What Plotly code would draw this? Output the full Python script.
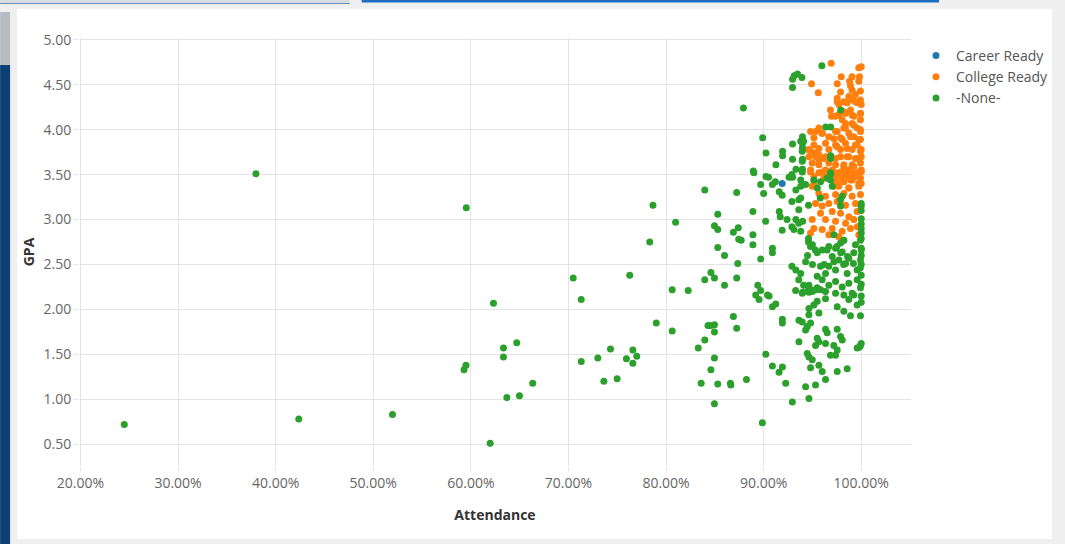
import plotly.graph_objects as go

# ---- data (Attendance in %, GPA) ----
career_att = [91.9]
career_gpa = [3.40]

college_att = [
    96.92, 94.91, 95.6, 99.75, 100.0, 99.82, 99.07, 97.95, 99.75, 98.8, 97.54, 98.9, 97.88, 99.07, 99.92,
    99.41, 98.73, 97.54, 98.22, 99.13, 99.92, 97.71, 99.58, 96.85, 98.9, 98.39, 99.92, 97.71, 96.95, 99.24,
    98.05, 99.92, 99.07, 98.39, 95.66, 98.22, 99.58, 94.81, 96.0, 97.37, 98.73, 99.92, 95.15, 96.68, 97.88,
    99.24, 99.92, 96.34, 97.37, 98.39, 99.58, 94.6, 94.81, 95.32, 96.68, 97.88, 99.07, 99.92, 96.34, 97.37,
    98.56, 99.41, 94.64, 95.32, 95.66, 96.68, 98.22, 99.07, 99.92, 94.81, 96.0, 97.03, 97.88, 98.73, 99.75,
    95.15, 96.34, 97.54, 98.39, 99.41,
    94.81, 95.66, 96.34, 97.37, 98.39, 99.24, 100.0,
    95.15, 96.17, 97.2, 98.05, 98.9, 99.92,
    94.98, 97.71, 98.73, 99.75,
    95.66, 96.34, 97.37, 98.22, 99.07, 99.92,
    95.32, 96.0, 96.68, 97.54, 98.39, 99.41,
    95.83, 97.03, 97.88, 98.73, 99.58,
    94.98, 96.34, 97.37, 98.39, 99.24,
    95.15, 96.0, 97.03, 98.05, 98.9, 99.6,
    94.81, 96.68, 97.71, 99.75,
    97.54, 98.56, 99.41, 100.0, 98.22, 99.07, 99.92, 97.37,
    95.32, 96.0, 97.54, 98.39, 99.24, 99.92,
    97.2, 98.05, 98.9, 99.75,
    95.15, 95.66, 97.54, 98.56, 99.41, 100.0,
    95.66, 96.17, 97.88, 98.73, 99.58, 100.0,
    94.98, 95.66, 97.37, 98.22, 99.24,
    97.37, 98.05, 98.73, 99.75, 100.0,
    97.54, 98.22, 99.07, 99.75, 100.0,
    95.15, 97.2, 98.73,
]
college_gpa = [
    4.74, 4.51, 4.41, 4.69, 4.70, 4.59, 4.59, 4.59, 4.54, 4.54, 4.51, 4.49, 4.42, 4.44, 4.43,
    4.39, 4.37, 4.35, 4.31, 4.33, 4.33, 4.28, 4.30, 4.22, 4.22, 4.18, 4.18, 4.17, 4.15, 4.15,
    4.11, 4.11, 4.07, 4.07, 4.02, 4.02, 4.02, 3.98, 3.96, 3.98, 3.96, 3.98, 3.91, 3.92, 3.91,
    3.92, 3.89, 3.85, 3.83, 3.85, 3.83, 3.78, 3.76, 3.74, 3.78, 3.78, 3.78, 3.76, 3.70, 3.68,
    3.70, 3.68, 3.70, 3.70, 3.66, 3.63, 3.61, 3.61, 3.63, 3.55, 3.53, 3.55, 3.53, 3.55, 3.53,
    3.48, 3.48, 3.48, 3.49, 3.48,
    3.53, 3.52, 3.55, 3.50, 3.53, 3.52, 3.55,
    3.44, 3.46, 3.42, 3.45, 3.44, 3.46,
    3.37, 3.37, 3.35, 3.37,
    3.29, 3.26, 3.28, 3.29, 3.26, 3.28,
    3.18, 3.15, 3.18, 3.20, 3.16, 3.18,
    3.07, 3.09, 3.07, 3.03, 3.09,
    3.00, 3.00, 2.98, 2.96, 3.00,
    2.90, 2.89, 2.90, 2.87, 2.90, 2.92,
    2.85, 2.83, 2.81, 2.83,
    4.31, 4.30, 4.31, 4.28, 4.20, 4.16, 4.18, 4.15,
    3.98, 3.96, 3.98, 4.02, 4.05, 4.00,
    3.90, 3.89, 3.92, 3.89,
    3.83, 3.79, 3.81, 3.79, 3.83, 3.78,
    3.72, 3.68, 3.70, 3.70, 3.68, 3.70,
    3.63, 3.61, 3.61, 3.59, 3.59,
    3.52, 3.53, 3.48, 3.50, 3.53,
    3.40, 3.42, 3.44, 3.40, 3.40,
    3.39, 3.37, 3.35,
]

none_att = [
    24.49, 37.98, 42.37, 51.97, 59.53, 59.3, 59.5, 62.32, 63.34, 63.34, 64.7, 66.34, 63.69, 64.98, 61.98,
    70.49, 71.31, 76.28, 78.66, 78.33, 80.98, 79.0, 80.63, 82.27, 80.63, 71.31, 73.01, 74.31, 75.94, 76.6,
    77.0, 76.6, 73.63, 74.99, 83.97, 87.24, 85.3, 84.96, 85.3, 86.9, 87.4, 87.45, 85.3, 85.99, 87.35,
    84.6, 83.97, 84.96, 85.99, 87.24, 86.9, 87.24, 84.3, 84.96, 84.96, 84.6, 83.97, 83.3, 84.96, 84.6,
    83.6, 85.3, 86.6, 84.96,
    95.97, 93.14, 93.47, 92.96, 93.92, 92.96, 87.93, 97.9, 96.36, 96.87, 89.9, 93.98, 93.98, 93.98, 93.98,
    93.98, 92.96, 91.94, 91.94, 92.96, 90.24, 91.26, 96.87, 88.94, 93.31, 90.24, 92.96,
    89.0, 90.5, 89.7, 90.9, 91.2, 92.6, 92.9, 90.0, 91.6, 91.9, 93.3, 93.8, 94.3, 92.9, 93.6,
    94.6, 88.9, 91.6, 91.7, 92.4, 90.2, 93.3, 93.6, 92.9, 93.1, 91.9, 87.7, 88.9, 88.9, 90.9,
    90.9, 94.6, 95.0, 95.3, 89.7, 92.9, 93.3, 93.8, 94.3, 89.4, 89.7, 90.4, 93.6, 94.1, 94.6, 94.0,
    95.49, 96.0, 96.68, 97.03, 97.37, 97.88, 98.22, 98.05, 97.71, 98.39, 98.73, 99.24, 99.41, 99.92, 100.0,
    99.92, 99.58, 98.56, 97.37, 96.68, 96.34, 95.83, 95.49, 96.0, 96.68, 97.37, 98.05, 98.73, 99.58, 99.92,
    99.07, 98.22, 97.37, 96.34, 95.49, 94.98, 94.64,
    96.85, 96.85, 97.03, 100.0, 100.0, 97.88,
    98.05, 97.88, 100.0, 100.0, 100.0, 100.0, 97.2, 98.2, 97.5, 96.5, 97.9, 98.6, 97.2, 96.2, 98.2,
    99.2, 99.9, 93.8, 93.6, 94.0, 93.8, 94.6, 94.8, 94.5, 95.0, 95.8, 95.5,
    93.8, 94.1, 93.96, 93.96, 93.96, 93.8, 96.86, 95.15, 95.83, 96.5, 96.86,
    89.19, 89.53, 90.56, 90.9, 91.24, 91.92, 91.92, 93.28, 93.96, 94.64, 94.81, 95.32, 95.83, 96.34, 95.49,
    95.15, 94.64, 95.66, 94.64, 93.62, 93.96, 94.81, 94.47, 94.3, 93.62, 96.34, 96.51, 97.54, 97.88, 98.05,
    98.73, 99.24, 99.58, 98.22, 98.9, 99.92, 97.54, 95.49, 95.66, 95.32, 96.34, 97.19, 97.54, 96.85, 97.37,
    99.58, 99.92, 94.47, 94.64, 94.98, 94.81, 95.66, 96.0, 96.34, 95.32, 94.3, 94.64, 97.54, 98.56, 90.22,
    90.9, 91.58, 91.92, 92.26, 92.94, 88.24, 86.64, 89.87,
    100.0, 100.0, 100.0, 100.0, 100.0, 100.0, 100.0, 100.0, 100.0, 100.0, 99.8,
]
none_gpa = [
    0.72, 3.51, 0.78, 0.83, 3.13, 1.33, 1.38, 2.07, 1.57, 1.47, 1.63, 1.18, 1.02, 1.04, 0.51,
    2.35, 2.11, 2.38, 3.16, 2.75, 2.97, 1.85, 2.22, 2.21, 1.76, 1.42, 1.46, 1.56, 1.45, 1.55,
    1.48, 1.40, 1.20, 1.23, 3.33, 3.30, 3.06, 2.93, 2.89, 2.86, 2.91, 2.78, 2.69, 2.60, 2.51,
    2.41, 2.33, 2.35, 2.27, 2.35, 1.92, 1.79, 1.82, 1.83, 1.75, 1.82, 1.66, 1.57, 1.46, 1.33,
    1.18, 1.17, 1.18, 0.95,
    4.71, 4.60, 4.62, 4.56, 4.58, 4.47, 4.24, 4.22, 4.03, 4.03, 3.91, 3.92, 3.85, 3.80, 3.67,
    3.56, 3.84, 3.76, 3.71, 3.67, 3.74, 3.61, 3.71, 3.54, 3.56, 3.48, 3.47,
    3.52, 3.47, 3.39, 3.39, 3.42, 3.47, 3.50, 3.29, 3.31, 3.27, 3.33, 3.37, 3.39, 3.20, 3.22,
    3.16, 3.09, 3.09, 3.03, 3.00, 2.98, 3.00, 2.96, 2.92, 2.89, 2.88, 2.77, 2.83, 2.72, 2.68,
    2.63, 2.75, 2.72, 2.66, 2.56, 2.48, 2.44, 2.40, 2.53, 2.27, 2.21, 2.16, 2.33, 2.27, 2.22, 2.19,
    2.63, 2.66, 2.70, 2.59, 2.68, 2.74, 2.77, 2.64, 2.55, 2.51, 2.57, 2.63, 2.72, 2.77, 2.66,
    2.55, 2.44, 2.40, 2.44, 2.48, 2.40, 2.48, 2.37, 2.33, 2.27, 2.31, 2.25, 2.29, 2.33, 2.24,
    2.18, 2.16, 2.18, 2.20, 2.24, 2.20, 2.27,
    3.52, 3.44, 3.37, 3.18, 3.15, 3.22,
    3.26, 3.15, 3.01, 2.90, 2.79, 2.68, 2.83, 2.77, 2.70, 2.66, 2.63, 2.59, 2.53, 2.50, 2.50,
    2.51, 2.46, 3.24, 3.11, 2.98, 2.87, 2.79, 2.70, 2.60, 2.50, 3.24, 3.35,
    3.87, 3.87, 3.76, 3.65, 3.53, 3.44, 3.68, 3.44, 3.42, 3.46, 3.50,
    2.16, 2.11, 2.15, 2.03, 2.06, 1.89, 1.85, 2.21, 2.18, 2.19, 2.22, 2.22, 2.22, 2.12, 2.09,
    2.05, 2.01, 1.96, 1.94, 1.88, 1.86, 1.85, 1.81, 1.77, 1.64, 1.78, 1.74, 1.78, 1.70, 1.66,
    2.11, 2.16, 2.05, 1.98, 1.93, 1.93, 2.03, 1.68, 1.64, 1.60, 1.62, 1.60, 1.55, 1.49, 1.49,
    1.57, 1.60, 1.51, 1.47, 1.44, 1.35, 1.38, 1.31, 1.22, 1.16, 1.14, 1.01, 1.31, 1.34, 1.50,
    1.37, 1.30, 1.36, 1.18, 0.97, 1.22, 1.16, 0.74,
    3.10, 2.95, 2.85, 2.60, 2.50, 2.38, 2.28, 2.15, 2.08, 1.62, 1.58,
]

series_names = ["Career Ready", "College Ready", "-None-"]
series_colors = ["#1f77b4", "#ff7f0e", "#2ca02c"]

x_ticks = [20, 30, 40, 50, 60, 70, 80, 90, 100]
x_tick_labels = ["20.00%", "30.00%", "40.00%", "50.00%", "60.00%", "70.00%", "80.00%", "90.00%", "100.00%"]
y_ticks = [0.5, 1.0, 1.5, 2.0, 2.5, 3.0, 3.5, 4.0, 4.5, 5.0]
y_tick_labels = ["0.50", "1.00", "1.50", "2.00", "2.50", "3.00", "3.50", "4.00", "4.50", "5.00"]

FONT = "Open Sans"
fig = go.Figure()
for name, color, xs, ys in zip(series_names, series_colors,
                               [career_att, college_att, none_att],
                               [career_gpa, college_gpa, none_gpa]):
    fig.add_trace(go.Scatter(x=xs, y=ys, mode="markers", name=name,
                             marker=dict(color=color, size=7, line=dict(width=0))))

# plot area pixel geometry: left 79, right 912, top 38, bottom 466
L, R, T, B = 79, 912, 38, 466
W, H = 1065, 544
def px(xp):
    return (xp - L) / (R - L)
def py(yp):
    return (B - yp) / (B - T)

shapes = [
    # white panel
    dict(type="rect", xref="paper", yref="paper", x0=px(17), x1=px(1053), y0=py(539), y1=py(9),
         fillcolor="white", line=dict(width=0), layer="below"),
    # dark blue strip on the left
    dict(type="rect", xref="paper", yref="paper", x0=px(0), x1=px(10), y0=py(544), y1=py(65),
         fillcolor="#0c3f72", line=dict(width=0), layer="below"),
    dict(type="rect", xref="paper", yref="paper", x0=px(0), x1=px(10), y0=py(65), y1=py(12),
         fillcolor="#b9bcc0", line=dict(width=0), layer="below"),
    # top bars
    dict(type="rect", xref="paper", yref="paper", x0=px(0), x1=px(350), y0=py(3), y1=py(0),
         fillcolor="#d8dde3", line=dict(width=0), layer="below"),
    dict(type="rect", xref="paper", yref="paper", x0=px(0), x1=px(350), y0=py(4), y1=py(3),
         fillcolor="#6d8fb3", line=dict(width=0), layer="below"),
    dict(type="rect", xref="paper", yref="paper", x0=px(362), x1=px(940), y0=py(2.5), y1=py(0),
         fillcolor="#1e6fc0", line=dict(width=0), layer="below"),
]

fig.update_layout(
    width=W, height=H,
    margin=dict(l=L, r=W - R, t=T, b=H - B, pad=0),
    paper_bgcolor="#efefef",
    plot_bgcolor="rgba(0,0,0,0)",
    font=dict(family=FONT, size=14, color="#666666"),
    shapes=shapes,
    showlegend=True,
    legend=dict(x=px(916), y=py(40), xanchor="left", yanchor="top",
                font=dict(family=FONT, size=14, color="#555555"),
                bgcolor="rgba(0,0,0,0)"),
    xaxis=dict(range=[19.85, 105.1], tickvals=x_ticks, ticktext=x_tick_labels,
               showgrid=True, gridcolor="#e4e4e4", gridwidth=1, zeroline=False,
               ticks="outside", ticklen=4, tickcolor="#e4e4e4", showline=False,
               title=dict(text="<b>Attendance</b>", font=dict(family=FONT, size=14, color="#333333"),
                          standoff=19),
               tickfont=dict(family=FONT, size=14, color="#666666")),
    yaxis=dict(range=[0.258, 5.02], tickvals=y_ticks, ticktext=y_tick_labels,
               showgrid=True, gridcolor="#e4e4e4", gridwidth=1, zeroline=False,
               ticks="outside", ticklen=4, tickcolor="#e4e4e4", showline=False,
               title=dict(text="<b>GPA</b>", font=dict(family=FONT, size=14, color="#333333"),
                          standoff=5),
               tickfont=dict(family=FONT, size=14, color="#666666")),
)

fig.write_html("out.html", config={"displayModeBar": False},
               post_script="document.body.style.margin='0';document.body.style.overflow='hidden';")
